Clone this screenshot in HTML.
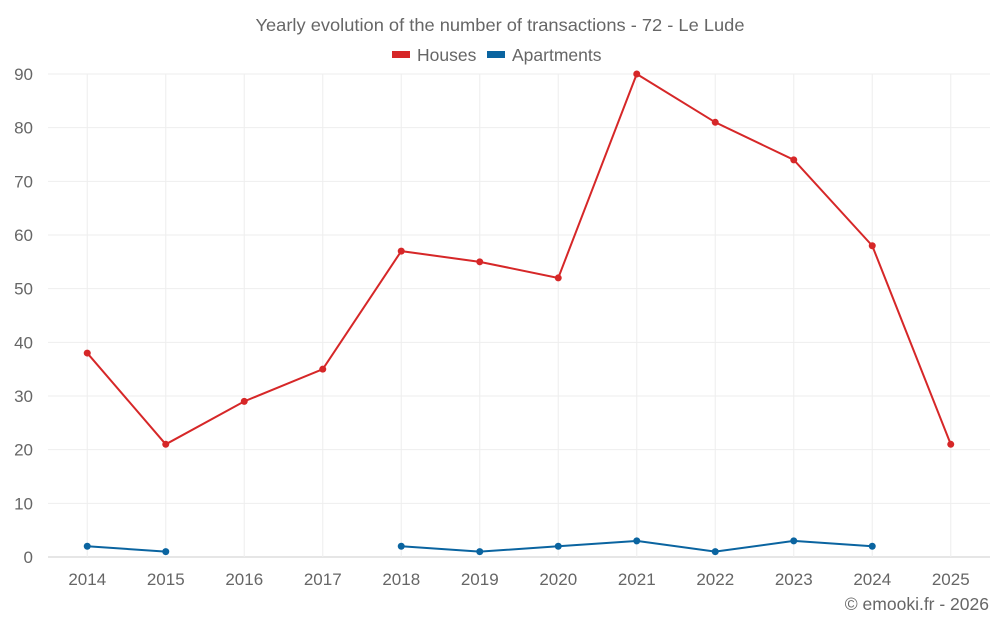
<!DOCTYPE html>
<html><head><meta charset="utf-8"><style>
body{margin:0;background:#fff;font-family:"Liberation Sans",sans-serif;}
svg text{font-family:"Liberation Sans",sans-serif;}
</style></head><body>
<svg id="chart" width="1000" height="625" viewBox="0 0 1000 625" xmlns="http://www.w3.org/2000/svg">
<text x="500" y="31" text-anchor="middle" font-size="17.5" fill="#666" textLength="489" lengthAdjust="spacingAndGlyphs">Yearly evolution of the number of transactions - 72 - Le Lude</text>
<g>
<g><rect x="392" y="51" width="18" height="7" fill="#d62728"/><text x="417" y="61" font-size="17.5" fill="#666">Houses</text></g>
<g><rect x="487" y="51" width="18" height="7" fill="#0a64a0"/><text x="512" y="61" font-size="17.5" fill="#666">Apartments</text></g>
</g>
<g id="grid"></g>
<g id="axes"></g>
<g id="series"></g>
<text x="989" y="610" text-anchor="end" font-size="17.5" fill="#666">© emooki.fr - 2026</text>
</svg>
<script>
const years=["2014","2015","2016","2017","2018","2019","2020","2021","2022","2023","2024","2025"];
const houses=[38,21,29,35,57,55,52,90,81,74,58,21];
const apartments=[2,1,null,null,2,1,2,3,1,3,2,null];
const yTicks=[0,10,20,30,40,50,60,70,80,90];
const NS="http://www.w3.org/2000/svg";
const L=48,R=990,T=74,B=557,yMax=90;
const band=(R-L)/years.length;
const x=i=>L+band*(i+0.5);
const y=v=>B-(v/yMax)*(B-T);
function mk(tag,attrs,parent){const e=document.createElementNS(NS,tag);for(const k in attrs)e.setAttribute(k,attrs[k]);parent.appendChild(e);return e;}
const grid=document.getElementById('grid'),axes=document.getElementById('axes'),series=document.getElementById('series');
yTicks.forEach(t=>{
 const l=mk('line',{x1:L,x2:R,y1:y(t),y2:y(t),stroke:t===0?'#ccc':'#eee','stroke-width':1},grid);
 
 
 const tx=mk('text',{x:33,y:y(t)+6,'text-anchor':'end','font-size':17,fill:'#666'},axes);
 tx.textContent=t;
 
 
});
years.forEach((yr,i)=>{
 const l=mk('line',{x1:x(i),x2:x(i),y1:T,y2:B,stroke:'#eee','stroke-width':1},grid);
 
 
 const tx=mk('text',{x:x(i),y:585,'text-anchor':'middle','font-size':17,fill:'#666'},axes);
 tx.textContent=yr;
 
 
});
function draw(data,color,name){
 let d='',pen=false;
 data.forEach((v,i)=>{if(v==null){pen=false;return;}d+=(pen?'L':'M')+x(i)+' '+y(v)+' ';pen=true;});
 const p=mk('path',{d:d,fill:'none',stroke:color,'stroke-width':2},series);
 
 
 data.forEach((v,i)=>{if(v==null)return;
  const c=mk('circle',{cx:x(i),cy:y(v),r:3.5,fill:color},series);
  
  
 });
}
draw(houses,'#d62728','houses');
draw(apartments,'#0a64a0','apartments');
</script>
</body></html>
